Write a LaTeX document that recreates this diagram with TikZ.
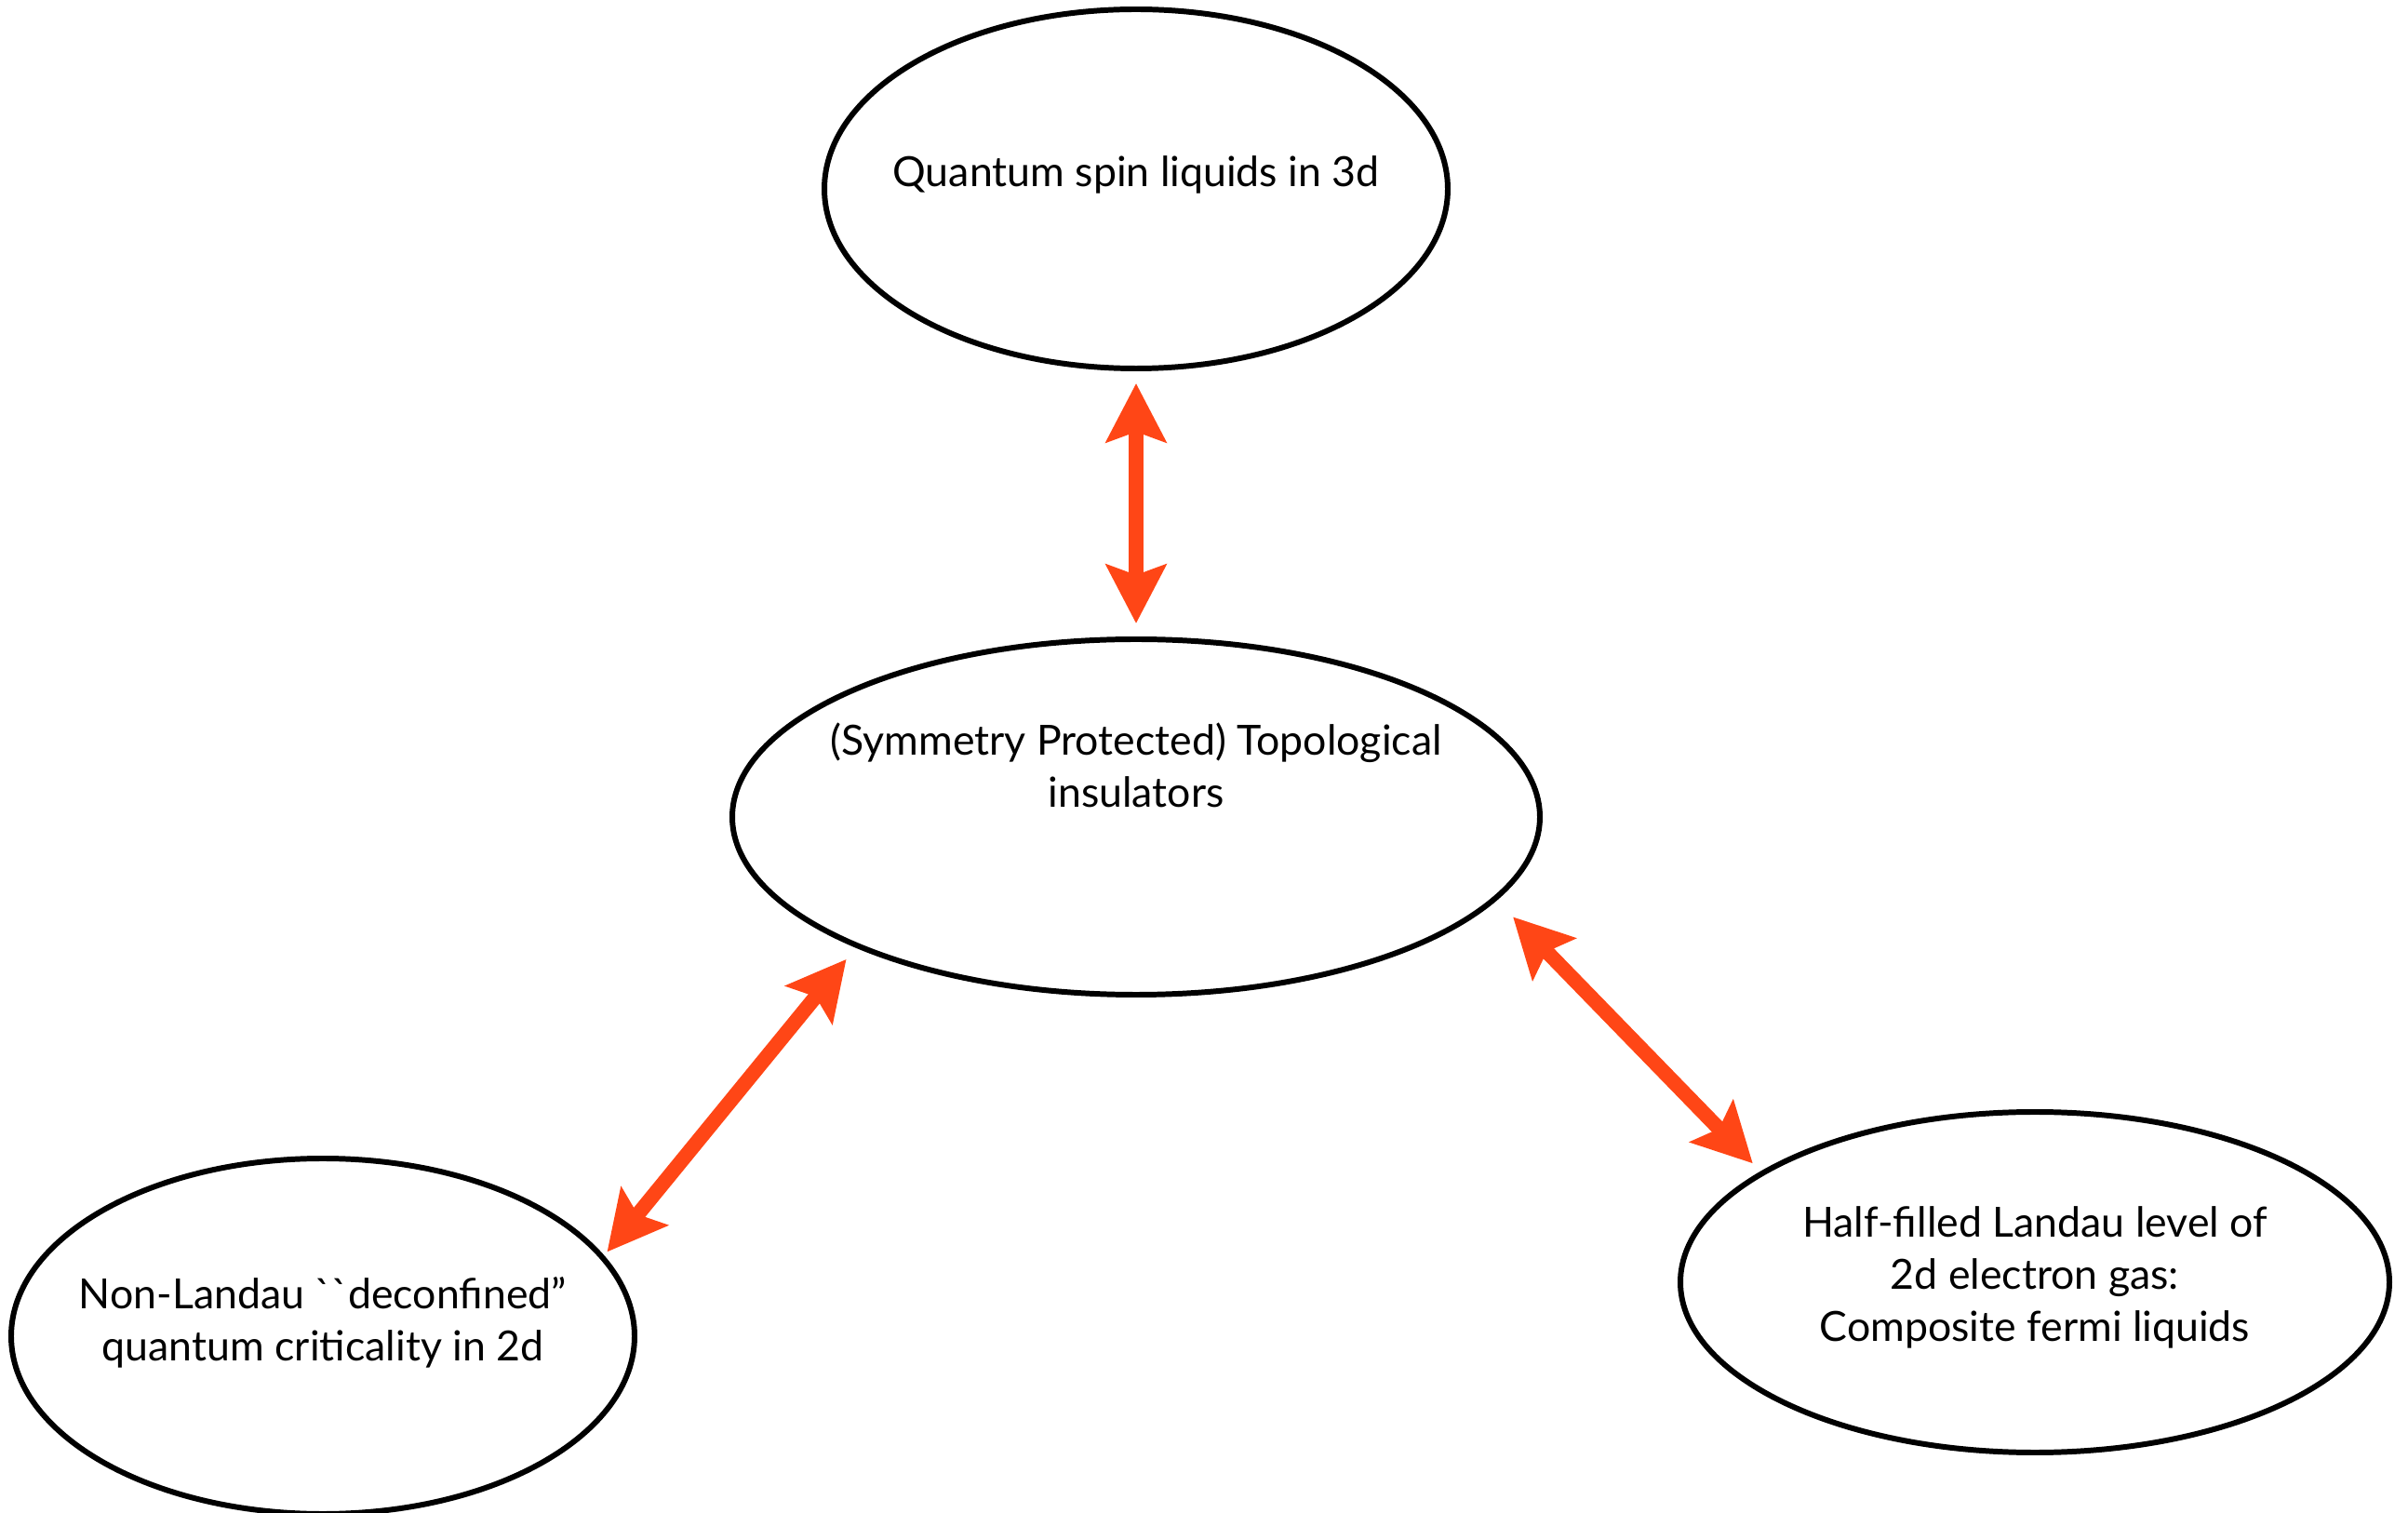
\documentclass[tikz,border=0pt]{standalone}
\usepackage{fontspec}
\setmainfont{Lato}
\usepackage{xcolor}
\usetikzlibrary{arrows.meta,shapes.geometric}

\definecolor{linkred}{RGB}{255,70,22}

\begin{document}
\begin{tikzpicture}[font=\fontsize{12.7}{16}\selectfont,
    blob/.style={draw,ellipse,line width=1.7pt,inner sep=0pt},
    txt/.style={align=center,inner sep=0pt},
    link/.style={draw=linkred,line width=4.5pt,
      {Stealth[length=6.3mm,width=6.4mm,inset=1.1mm]}-{Stealth[length=6.3mm,width=6.4mm,inset=1.1mm]}}]
    \useasboundingbox (0,0) rectangle (25.88,-16.26);
    % the four topics
    \node[blob,minimum width=6.70cm,minimum height=3.86cm] (qsl) at (12.21,-2.03) {};
    \node[blob,minimum width=8.68cm,minimum height=3.82cm] (ti) at (12.21,-8.78) {};
    \node[blob,minimum width=6.70cm,minimum height=3.82cm] (dqc) at (3.47,-14.36) {};
    \node[blob,minimum width=7.62cm,minimum height=3.66cm] (cfl) at (21.87,-13.78) {};
    \node[txt] (qsltext) at ([yshift=1.5mm]qsl.center) {Quantum spin liquids in 3d};
    \node[txt] (titext) at ([yshift=5.6mm]ti.center) {(Symmetry Protected) Topological\\insulators};
    \node[txt] (dqctext) at ([yshift=1.5mm]dqc.center) {Non-Landau \textasciigrave\textasciigrave deconfined''\\quantum criticality in 2d};
    \node[txt] (cfltext) at ([yshift=0.5mm]cfl.center) {Half-filled Landau level of\\2d electron gas:\\Composite fermi liquids};
    % links
    \draw[link,shorten <=1.3mm,shorten >=1.4mm] (qsl.south) -- (ti.north);
    \draw[link,shorten <=0.5mm,shorten >=1.6mm] (dqc.16.8) -- (ti.205.6);
    \draw[link,shorten <=2.5mm,shorten >=1.2mm] (ti.-13.6) -- (cfl.158.4);
\end{tikzpicture}
\end{document}
